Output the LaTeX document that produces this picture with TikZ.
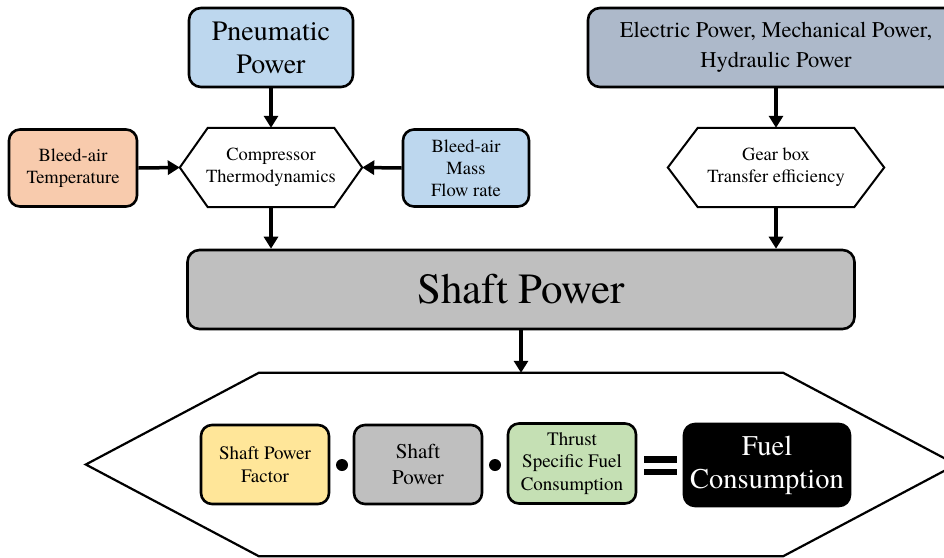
\documentclass[tikz,border=0pt]{standalone}
\usepackage{fontspec}
\setmainfont{TeX Gyre Termes}
\usetikzlibrary{arrows.meta,calc}
\definecolor{airblue}{HTML}{BDD7EE}
\definecolor{airpeach}{HTML}{F8CBAD}
\definecolor{slateblue}{HTML}{ADB9CA}
\definecolor{shaftgrey}{HTML}{BFBFBF}
\definecolor{factoryellow}{HTML}{FFE699}
\definecolor{tsfcgreen}{HTML}{C5E0B4}
\tikzset{
  box/.style={draw, line width=2.6pt, rounded corners=12pt, align=center, inner sep=0pt},
  hexlabel/.style={align=center, inner sep=0pt},
  flow/.style={line width=3.5pt, -{Triangle[length=12pt,width=14pt]}},
  smalltext/.style={font=\fontsize{18.5}{22}\selectfont},
}
% outline of a flat hexagon round a named node
\newcommand{\hexoutline}[3]{%
  \draw[line width=#3, line join=miter] (#1.west) -- ($(#1.north west)+(#2,0)$) -- ($(#1.north east)+(-#2,0)$)
    -- (#1.east) -- ($(#1.south east)+(-#2,0)$) -- ($(#1.south west)+(#2,0)$) -- cycle;}
\begin{document}
\begin{tikzpicture}[x=1pt, y=-1pt]
\useasboundingbox (0,0) rectangle (944,557);
\clip (0,0) rectangle (944,557);
% top row
\node[box, fill=airblue, minimum width=164, minimum height=79, font=\fontsize{28}{33}\selectfont] (pneumatic) at (271,47.5) {Pneumatic\\Power};
\node[box, fill=slateblue, minimum width=376, minimum height=79, font=\fontsize{22.5}{30}\selectfont] (electric) at (776,47.5) {Electric Power, Mechanical Power,\\Hydraulic Power};
% second row
\node[box, smalltext, fill=airpeach, minimum width=128, minimum height=77, rounded corners=11pt] (temperature) at (73,168) {Bleed-air\\Temperature};
\node[box, smalltext, fill=airblue, minimum width=126, minimum height=77, rounded corners=11pt] (massflow) at (466,168) {Bleed-air\\Mass\\Flow rate};
\node[hexlabel, smalltext, minimum width=182, minimum height=79] (compressor) at (271,167.5) {Compressor\\Thermodynamics};
\hexoutline{compressor}{28}{2pt}
\node[hexlabel, smalltext, minimum width=216, minimum height=79] (gearbox) at (776,167.5) {Gear box\\Transfer efficiency};
\hexoutline{gearbox}{30}{2pt}
% shaft power
\node[box, fill=shaftgrey, minimum width=667, minimum height=79, font=\fontsize{43}{48}\selectfont] (shaft) at (521,289.5) {Shaft Power};
% fuel equation
\node[hexlabel, minimum width=870, minimum height=183] (fuelhex) at (521,464.5) {};
\hexoutline{fuelhex}{173}{2.2pt}
\node[box, fill=factoryellow, minimum width=128, minimum height=79, rounded corners=11pt, font=\fontsize{19}{23}\selectfont] (factor) at (265,464.5) {Shaft Power\\Factor};
\node[box, fill=shaftgrey, minimum width=128, minimum height=79, rounded corners=11pt, font=\fontsize{21}{26}\selectfont] (shaftsmall) at (418,464.5) {Shaft\\Power};
\node[box, fill=tsfcgreen, minimum width=128, minimum height=80, rounded corners=11pt, font=\fontsize{19}{22.5}\selectfont] (tsfc) at (572,463.5) {Thrust\\Specific Fuel\\Consumption};
\node[box, fill=black, text=white, minimum width=166, minimum height=82, rounded corners=11pt, font=\fontsize{28.5}{33}\selectfont] (fuel) at (767,465) {Fuel\\Consumption};
\foreach \x in {342,495}
{
	\fill (\x,465) circle (6);
}
\fill (644,456) rectangle (677,462.5);
\fill (644,468.5) rectangle (677,475);
% arrows
\draw[flow] (pneumatic.south) -- (compressor.north);
\draw[flow] (temperature.east) -- (compressor.west);
\draw[flow] (massflow.west) -- (compressor.east);
\draw[flow] (compressor.south) -- (compressor.south |- shaft.north);
\draw[flow] (electric.south) -- (gearbox.north);
\draw[flow] (gearbox.south) -- (gearbox.south |- shaft.north);
\draw[flow] (shaft.south) -- (fuelhex.north);
\end{tikzpicture}
\end{document}
